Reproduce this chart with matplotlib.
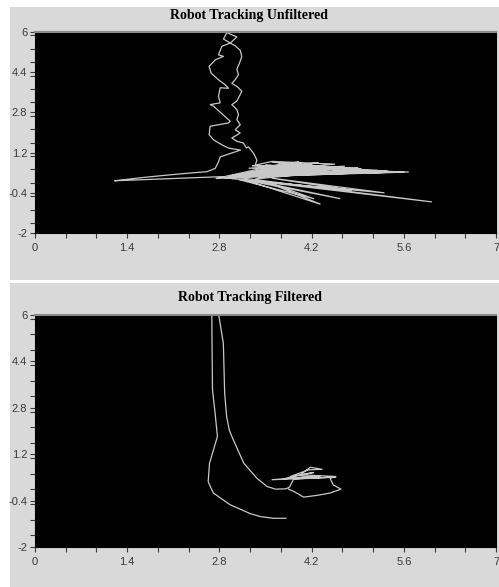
"""Robot tracking, unfiltered vs filtered: two stacked panels -> out.png."""

import matplotlib

matplotlib.use("Agg")
import matplotlib.pyplot as plt
import matplotlib.ticker as ticker
from matplotlib.patches import Rectangle

# unfiltered track (x, y in metres)
UNF_X = [1.216, 1.646, 1.95, 2.28, 2.609, 2.736, 2.786, 2.812, 3.12, 2.938, 2.837,
         2.710, 2.644, 2.660, 2.938, 2.964, 2.705, 2.660, 2.812, 2.786, 2.812, 2.938,
         2.888, 2.786, 2.675, 2.644, 2.736, 2.862, 2.786, 2.837,
         2.964, 2.862, 2.913, 3.065, 2.964, 3.04,
         3.116, 3.14, 3.105, 3.065, 3.09, 3.04, 2.989, 3.065, 3.09, 3.14, 3.065, 2.989,
         3.065, 3.09, 3.065, 3.116, 3.04, 3.116, 2.989, 3.065, 3.166, 3.21, 3.24, 3.32,
         3.37, 3.343,
         3.60, 4.55, 3.40, 5.67, 3.10, 4.30, 3.55, 5.20, 2.90, 4.00, 3.45, 4.90, 3.20,
         5.45, 2.75, 3.80, 3.65, 4.70, 3.30, 5.60, 3.00, 4.45, 3.50, 4.10, 3.35,
         4.80, 3.70, 5.10, 3.25, 4.20, 3.90, 5.35, 3.15, 4.60, 3.75, 5.55, 2.95,
         4.05, 3.50, 4.95, 3.30, 4.35, 3.60, 5.00, 3.05,
         6.02, 3.40, 4.63, 3.20, 4.33, 3.55, 4.23, 3.10, 5.30, 3.60, 4.80, 3.00,
         2.812, 1.216]
UNF_Y = [0.08, 0.21, 0.29, 0.37, 0.44, 0.57, 0.83, 1.03, 1.30, 1.38, 1.51,
         1.71, 1.91, 2.25, 2.38, 2.45, 3.06, 3.11, 3.18, 3.44, 3.78, 3.76,
         3.90, 4.10, 4.36, 4.63, 4.89, 5.03, 5.09, 5.43,
         5.56, 5.72, 5.98, 5.80, 5.56, 5.45,
         5.27, 5.03, 4.76, 4.52, 4.30, 4.10, 3.96, 3.83, 3.78, 3.64, 3.25, 3.11,
         2.91, 2.71, 2.51, 2.31, 2.11, 1.98, 1.78, 1.65, 1.58, 1.38, 1.43, 1.17,
         0.90, 0.70,
         0.85, 0.74, 0.45, 0.43, 0.28, 0.80, 0.60, 0.50, 0.20, 0.84, 0.35, 0.60, 0.40,
         0.44, 0.17, 0.78, 0.50, 0.66, 0.25, 0.42, 0.30, 0.55, 0.70, 0.65, 0.15,
         0.52, 0.80, 0.47, 0.58, 0.72, 0.38, 0.46, 0.32, 0.62, 0.66, 0.43, 0.25,
         0.78, 0.48, 0.56, 0.68, 0.60, 0.82, 0.52, 0.22,
         -0.76, 0.05, -0.63, 0.10, -0.85, 0.00, -0.63, 0.12, -0.40, 0.18, -0.30, 0.16,
         0.24, 0.08]

# filtered track: outer leg (left) and inner leg ending in the tangle
FILT_A_X = [2.685, 2.69, 2.695, 2.735, 2.77, 2.71, 2.65, 2.63, 2.66, 2.71, 2.96,
            3.27, 3.42, 3.62, 3.81]
FILT_A_Y = [6.0, 4.5, 3.42, 2.61, 1.81, 1.35, 0.89, 0.26, 0.09, -0.14, -0.54,
            -0.85, -0.95, -1.01, -1.01]
FILT_B_X = [2.79, 2.86, 2.88, 2.91, 2.95, 3.01, 3.17, 3.37, 3.52, 3.65, 3.81, 3.865,
            3.926, 4.56, 3.60, 4.33, 3.77, 4.23, 3.875, 4.15, 4.36, 4.18, 4.03, 4.57,
            4.48, 4.53, 4.645, 4.48, 4.28, 4.08, 3.93, 3.85]
FILT_B_Y = [6.0, 5.02, 3.30, 2.50, 2.03, 1.70, 0.89, 0.37, 0.09, -0.005, 0.007, 0.064,
            0.34, 0.41, 0.32, 0.455, 0.35, 0.57, 0.43, 0.66, 0.68, 0.75, 0.49, 0.43,
            0.37, 0.14, -0.005, -0.14, -0.22, -0.28, -0.085, -0.005]

PANEL = "#d9d9d9"
TRACE = "#c8c8c8"
TICK_COL = "#3a3a3a"
W, H = 499, 587


def _frac(left, top, right, bottom):
    """Pixel box (from top-left) -> figure fraction rect."""
    return [left / W, 1 - bottom / H, (right - left) / W, (bottom - top) / H]


def _style_axes(ax):
    ax.set_facecolor("black")
    ax.set_xlim(0, 7)
    ax.set_ylim(-2, 6)
    ax.xaxis.set_major_locator(ticker.FixedLocator([0, 1.4, 2.8, 4.2, 5.6, 7]))
    ax.xaxis.set_minor_locator(ticker.MultipleLocator(7 / 15))
    ax.yaxis.set_major_locator(ticker.FixedLocator([-2, -0.4, 1.2, 2.8, 4.4, 6]))
    ax.yaxis.set_minor_locator(ticker.MultipleLocator(8 / 15))
    ax.xaxis.set_major_formatter(ticker.FuncFormatter(lambda v, _: f"{v:g}"))
    ax.yaxis.set_major_formatter(ticker.FuncFormatter(lambda v, _: f"{v:g}"))
    for which in ("major", "minor"):
        ax.tick_params(which=which, direction="out", length=3.5, width=0.8,
                       color=TICK_COL)
    ax.tick_params(axis="x", labelsize=8, labelcolor=TICK_COL, pad=4)
    ax.tick_params(axis="y", labelsize=8, labelcolor=TICK_COL, pad=2)
    for lab in ax.get_xticklabels() + ax.get_yticklabels():
        lab.set_family("Liberation Sans")
    for side in ("left", "right", "bottom"):
        ax.spines[side].set_color("black")
    ax.spines["top"].set_color("#8a8a8a")
    ax.spines["top"].set_linewidth(1.5)


def main():
    fig = plt.figure(figsize=(W / 100, H / 100), dpi=100)
    fig.patch.set_facecolor("white")

    # grey window panels behind each chart
    for box in [(10, 7, 499, 280), (10, 283, 499, 587)]:
        x0, y0, w, h = _frac(*box)
        fig.patches.append(Rectangle((x0, y0), w, h, transform=fig.transFigure,
                                     facecolor=PANEL, edgecolor="none", zorder=-5))

    ax1 = fig.add_axes(_frac(35, 32, 496, 233))
    ax2 = fig.add_axes(_frac(35, 315, 496, 547))

    ax1.plot(UNF_X, UNF_Y, color=TRACE, lw=0.9)
    ax2.plot(FILT_A_X, FILT_A_Y, color=TRACE, lw=0.9)
    ax2.plot(FILT_B_X, FILT_B_Y, color=TRACE, lw=0.9)

    for ax in (ax1, ax2):
        _style_axes(ax)

    fig.text(0.5, 1 - 15 / H, "Robot Tracking Unfiltered", ha="center", va="center",
             family="Liberation Serif", weight="bold", fontsize=10)
    fig.text(0.5, 1 - 298 / H, "Robot Tracking Filtered", ha="center", va="center",
             family="Liberation Serif", weight="bold", fontsize=10)

    fig.savefig("out.png", dpi=100)
    plt.close(fig)


if __name__ == "__main__":
    main()
